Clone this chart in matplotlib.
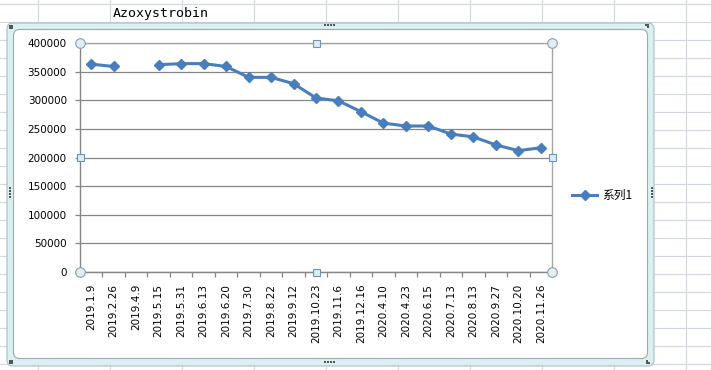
"""Excel-style line chart of Azoxystrobin prices, drawn inside a mock worksheet."""

import matplotlib

matplotlib.use("Agg")
import matplotlib.pyplot as plt
import numpy as np
from matplotlib.patches import FancyBboxPatch, Rectangle

# --- data -----------------------------------------------------------------
dates = [
    "2019.1.9", "2019.2.26", "2019.4.9", "2019.5.15", "2019.5.31", "2019.6.13",
    "2019.6.20", "2019.7.30", "2019.8.22", "2019.9.12", "2019.10.23", "2019.11.6",
    "2019.12.16", "2020.4.10", "2020.4.23", "2020.6.15", "2020.7.13", "2020.8.13",
    "2020.9.27", "2020.10.20", "2020.11.26",
]
prices = [
    363000, 359000, np.nan, 362000, 364000, 364000, 359000, 340000, 340000,
    329000, 304000, 299000, 280000, 260000, 255000, 255000, 241000, 236000,
    222000, 212000, 217000,
]
y_ticks = [0, 50000, 100000, 150000, 200000, 250000, 300000, 350000, 400000]
title = "Azoxystrobin"
series_name = "系列1"

W, H = 711, 370
LINE_BLUE = "#4a7ebb"
AXIS_GRAY = "#868686"


def pixel_axes(fig, zorder):
    """Full-figure axes in pixel coordinates (origin top-left)."""
    a = fig.add_axes([0, 0, 1, 1], zorder=zorder)
    a.set_xlim(0, W)
    a.set_ylim(H, 0)
    a.axis("off")
    a.patch.set_alpha(0)
    return a


fig = plt.figure(figsize=(W / 100, H / 100), dpi=100)

# --- worksheet background and chart frame ---------------------------------
sheet = pixel_axes(fig, zorder=0)
for x in range(38, W, 72):
    sheet.plot([x, x], [0, H], color="#d0d7e5", lw=0.8, zorder=1)
for y in range(4, H, 18):
    sheet.plot([0, W], [y, y], color="#d0d7e5", lw=0.8, zorder=1)

sheet.text(113, 14, title, fontsize=9.5, family="DejaVu Sans Mono", va="center", ha="left")

sheet.add_patch(FancyBboxPatch((7, 23), 647, 343, boxstyle="round,pad=0,rounding_size=6",
                               fc="#dcf0f1", ec="#a9bfc3", lw=0.8, zorder=3))
sheet.add_patch(FancyBboxPatch((13.5, 29.5), 634, 329, boxstyle="round,pad=0,rounding_size=6",
                               fc="white", ec="#a0a8aa", lw=0.8, zorder=4))
dots = [(10, 26), (12, 26), (10, 28), (12, 28), (646, 25), (648, 25), (648, 27),
        (10, 361), (12, 361), (10, 363), (12, 363), (647, 361), (649, 363), (647, 363),
        (325, 25), (328, 25), (331, 25), (334, 25), (325, 362), (328, 362), (331, 362),
        (334, 362), (10, 188), (10, 191), (10, 194), (10, 197), (652, 188), (652, 191),
        (652, 194), (652, 197)]
sheet.scatter(*zip(*dots), s=1.2, color="#555555", marker="s", lw=0, zorder=5)

# --- plot area ------------------------------------------------------------
left, right, top, bottom = 80, 552, 43, 272
ax = fig.add_axes([left / W, 1 - bottom / H, (right - left) / W, (bottom - top) / H], zorder=1)
ax.patch.set_alpha(0)

xs = np.arange(len(dates))
ax.plot(xs, prices, color=LINE_BLUE, lw=2.2, marker="D", ms=5, mfc=LINE_BLUE,
        mec=LINE_BLUE, zorder=3)

ax.set_xlim(-0.5, len(dates) - 0.5)
ax.set_ylim(0, 400000)
ax.set_yticks(y_ticks)
ax.set_yticklabels([str(v) for v in y_ticks])
ax.grid(axis="y", color=AXIS_GRAY, lw=0.9)
ax.set_axisbelow(True)

# category boundary tick marks, labels on the category centres
ax.set_xticks(np.arange(-0.5, len(dates)))
ax.set_xticklabels([])
ax.set_xticks(xs, minor=True)
ax.set_xticklabels(dates, minor=True, rotation=90)
ax.tick_params(axis="x", which="major", length=3.5, color=AXIS_GRAY, width=0.9)
ax.tick_params(axis="x", which="minor", length=0, pad=8.5, labelsize=7.5)
ax.tick_params(axis="y", length=3.5, color=AXIS_GRAY, width=0.9, pad=6, labelsize=7.5)

for side in ("left", "bottom"):
    ax.spines[side].set_color(AXIS_GRAY)
    ax.spines[side].set_linewidth(1.0)
for side in ("top", "right"):
    ax.spines[side].set_color("#a6a6a6")
    ax.spines[side].set_linewidth(1.0)

# --- overlay: selection handles and legend --------------------------------
over = pixel_axes(fig, zorder=2)
for hx, hy in [(left, top), (right, top), (left, bottom), (right, bottom)]:
    over.scatter(hx, hy, s=48, marker="o", fc="#e3ecf1", ec="#8aa0ae", lw=0.8, zorder=5)
for hx, hy in [((left + right) / 2, top), ((left + right) / 2, bottom),
               (left, (top + bottom) / 2), (right, (top + bottom) / 2)]:
    over.add_patch(Rectangle((hx - 3.5, hy - 3.5), 7, 7, fc="#dbecf8", ec="#6f93b8",
                             lw=0.8, zorder=5))

over.plot([572, 597], [195, 195], color=LINE_BLUE, lw=2.2, zorder=6)
over.plot([584.5], [195], color=LINE_BLUE, marker="D", ms=5, zorder=7)
over.text(602, 195, series_name, fontsize=8.5, va="center", ha="left",
          family=["Noto Sans CJK SC", "DejaVu Sans"])

fig.savefig("out.png", dpi=100)
